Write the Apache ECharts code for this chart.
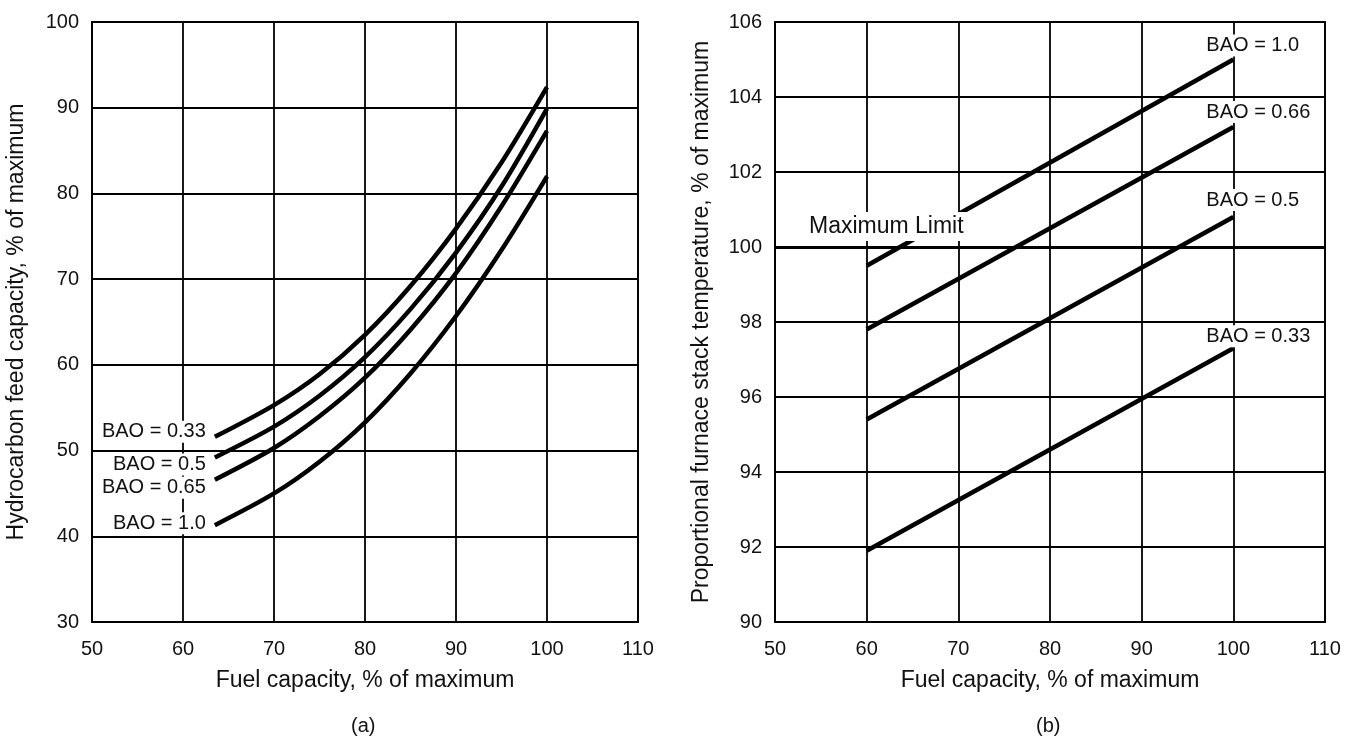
<!DOCTYPE html>
<html>
<head>
<meta charset="utf-8">
<script src="https://cdn.jsdelivr.net/npm/echarts@6/dist/echarts.min.js"></script>
<style>
  html, body { margin: 0; background: #fff; }
  #chart { width: 1354px; height: 738px; }
</style>
</head>
<body>
<div id="chart"></div>
<script>
// (a) hydrocarbon feed capacity vs fuel capacity
const fuelA = [63.5, 70, 75, 80, 85, 90, 95, 100];
const feedBao033 = [51.6, 55.3, 58.9, 63.5, 69.2, 75.9, 83.6, 92.4];
const feedBao05 = [49.2, 52.8, 56.4, 60.9, 66.5, 73.1, 80.8, 89.9];
const feedBao065 = [46.6, 50.3, 54.0, 58.5, 64.1, 70.7, 78.5, 87.3];
const feedBao10 = [41.3, 45.0, 48.7, 53.3, 59.0, 65.7, 73.4, 82.0];

// (b) furnace stack temperature vs fuel capacity
const fuelB = [60, 100];
const tempBao10 = [99.5, 105.0];
const tempBao066 = [97.8, 103.2];
const tempBao05 = [95.4, 100.8];
const tempBao033 = [91.9, 97.3];
const maxLimit = 100;

// axis ranges [min, max, interval]
const xRange = [50, 110, 10];
const yRangeA = [30, 100, 10];
const yRangeB = [90, 106, 2];

const FONT = "'Liberation Sans', Arial, sans-serif";
const INK = "#111";

const chart = echarts.init(document.getElementById("chart"));

const xAxisBase = (gridIndex) => ({
  type: "value",
  gridIndex,
  min: xRange[0],
  max: xRange[1],
  interval: xRange[2],
  name: "Fuel capacity, % of maximum",
  nameLocation: "middle",
  nameGap: 47,
  nameTextStyle: { fontSize: 23, color: INK, fontFamily: FONT },
  axisLine: { show: true, lineStyle: { color: "#000", width: 1.8 } },
  axisTick: { show: false },
  axisLabel: { fontSize: 20, color: INK, fontFamily: FONT, margin: 17 },
  splitLine: { show: true, lineStyle: { color: "#000", width: 1.8 } },
});

const yAxisBase = (gridIndex, range, name, gap) => ({
  type: "value",
  gridIndex,
  min: range[0],
  max: range[1],
  interval: range[2],
  name,
  nameLocation: "middle",
  nameGap: gap,
  nameTextStyle: { fontSize: 23, color: INK, fontFamily: FONT },
  axisLine: { show: true, lineStyle: { color: "#000", width: 1.8 } },
  axisTick: { show: false },
  axisLabel: { fontSize: 20, color: INK, fontFamily: FONT, margin: 13 },
  splitLine: { show: true, lineStyle: { color: "#000", width: 1.8 } },
});

const labelStyle = {
  show: true,
  fontSize: 20,
  color: INK,
  fontFamily: FONT,
  backgroundColor: "#fff",
  padding: [1, 3],
};

// curves in (a): label sits left of the first point
const curveA = (name, ys, dy) => ({
  type: "line",
  name,
  xAxisIndex: 0,
  yAxisIndex: 0,
  smooth: 0.3,
  symbolSize: 0,
  showAllSymbol: true,
  lineStyle: { color: "#000", width: 4.5, cap: "butt" },
  data: fuelA.map((x, i) =>
    i === 0
      ? {
          value: [x, ys[i]],
          label: { ...labelStyle, formatter: name, position: "left", distance: 6, offset: [0, dy] },
        }
      : [x, ys[i]]
  ),
});

// lines in (b): label sits above the last point
const lineB = (name, ys, dy) => ({
  type: "line",
  name,
  xAxisIndex: 1,
  yAxisIndex: 1,
  symbolSize: 0,
  lineStyle: { color: "#000", width: 4.5, cap: "butt" },
  data: fuelB.map((x, i) =>
    i === fuelB.length - 1
      ? {
          value: [x, ys[i]],
          label: { ...labelStyle, formatter: name, position: "top", align: "left", distance: 3, offset: [-30, dy] },
        }
      : [x, ys[i]]
  ),
});

const option = {
  animation: false,
  backgroundColor: "#fff",
  grid: [
    { left: 92, right: 716, top: 22, bottom: 116, show: true, borderColor: "#000", borderWidth: 1.8 },
    { left: 775, right: 29, top: 22, bottom: 116, show: true, borderColor: "#000", borderWidth: 1.8 },
  ],
  xAxis: [xAxisBase(0), xAxisBase(1)],
  yAxis: [
    yAxisBase(0, yRangeA, "Hydrocarbon feed capacity, % of maximum", 64),
    yAxisBase(1, yRangeB, "Proportional furnace stack temperature, % of maximum", 62),
  ],
  graphic: [
    { type: "text", left: 365 - 14, top: 716, style: { text: "(a)", fontSize: 20, fill: INK, fontFamily: FONT } },
    { type: "text", left: 1050 - 14, top: 716, style: { text: "(b)", fontSize: 20, fill: INK, fontFamily: FONT } },
  ],
  series: [
    curveA("BAO = 0.33", feedBao033, -5),
    curveA("BAO = 0.5", feedBao05, 7),
    curveA("BAO = 0.65", feedBao065, 8),
    curveA("BAO = 1.0", feedBao10, -2),
    lineB("BAO = 1.0", tempBao10, 0),
    lineB("BAO = 0.66", tempBao066, -1),
    lineB("BAO = 0.5", tempBao05, -3),
    lineB("BAO = 0.33", tempBao033, 2),
    {
      type: "line",
      xAxisIndex: 1,
      yAxisIndex: 1,
      z: 5,
      data: [],
      markLine: {
        silent: true,
        symbol: "none",
        lineStyle: { color: "#000", width: 3, type: "solid" },
        label: {
          show: true,
          formatter: "Maximum Limit",
          position: "insideStartTop",
          distance: [30, 6],
          fontSize: 23,
          color: INK,
          fontFamily: FONT,
          backgroundColor: "#fff",
          padding: [3, 4],
        },
        data: [{ yAxis: maxLimit }],
      },
    },
  ],
};

chart.setOption(option);
</script>
</body>
</html>
